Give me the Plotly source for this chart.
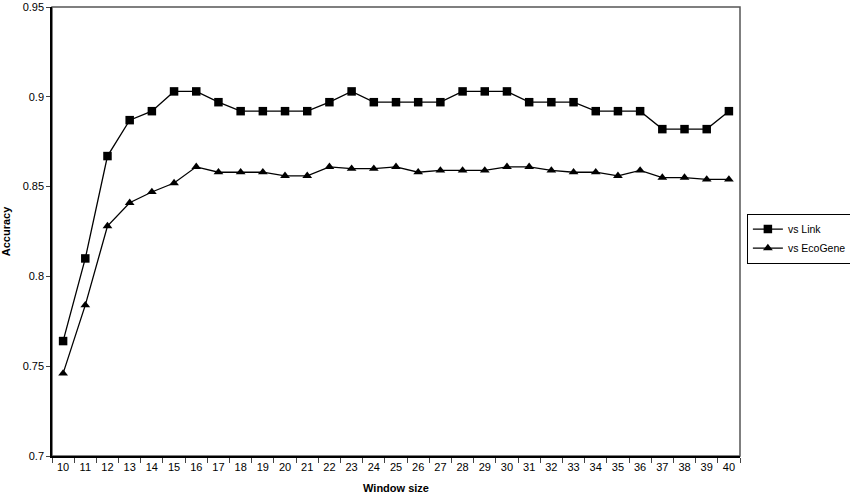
import plotly.graph_objects as go

window_sizes = list(range(10, 41))
vs_link = [0.764, 0.810, 0.867, 0.887, 0.892, 0.903, 0.903, 0.897, 0.892, 0.892,
           0.892, 0.892, 0.897, 0.903, 0.897, 0.897, 0.897, 0.897, 0.903, 0.903,
           0.903, 0.897, 0.897, 0.897, 0.892, 0.892, 0.892, 0.882, 0.882, 0.882,
           0.892]
vs_ecogene = [0.746, 0.784, 0.828, 0.841, 0.847, 0.852, 0.861, 0.858, 0.858, 0.858,
              0.856, 0.856, 0.861, 0.860, 0.860, 0.861, 0.858, 0.859, 0.859, 0.859,
              0.861, 0.861, 0.859, 0.858, 0.858, 0.856, 0.859, 0.855, 0.855, 0.854,
              0.854]
y_ticks = [0.7, 0.75, 0.8, 0.85, 0.9, 0.95]

fnt = "Liberation Sans, Arial, sans-serif"
cats = [str(w) for w in window_sizes]

fig = go.Figure()
fig.add_trace(go.Scatter(x=cats, y=vs_link, name="vs Link",
                         mode="lines+markers",
                         line=dict(color="black", width=1.3),
                         marker=dict(symbol="square", size=8.5, color="black")))
fig.add_trace(go.Scatter(x=cats, y=vs_ecogene, name="vs EcoGene",
                         mode="lines+markers",
                         line=dict(color="black", width=1.3),
                         marker=dict(symbol="triangle-up", size=8.5, color="black")))

# grey frame on top/right like the original
fig.add_shape(type="rect", xref="paper", yref="paper", x0=0, x1=1, y0=0, y1=1,
              line=dict(color="#555555", width=1.5), layer="below")

fig.update_layout(
    width=850, height=501,
    margin=dict(l=52, r=110, t=7, b=45, autoexpand=False),
    paper_bgcolor="white", plot_bgcolor="white",
    font=dict(family=fnt, size=11, color="black"),
    showlegend=True,
    legend=dict(x=1.01, y=0.54, xanchor="left", yanchor="top",
                bordercolor="black", borderwidth=1,
                font=dict(size=10.5), tracegroupgap=0,
                itemwidth=30),
)
fig.update_xaxes(type="category", range=[-0.5, len(cats) - 0.5],
                 tickson="boundaries", ticks="outside", ticklen=5,
                 tickangle=0,
                 showline=True, linecolor="black", linewidth=1.5, showgrid=False,
                 tickfont=dict(size=11),
                 title=dict(text="<b>Window size</b>", font=dict(size=11), standoff=12))
fig.update_yaxes(range=[0.7, 0.95], tickvals=y_ticks,
                 ticktext=["0.7", "0.75", "0.8", "0.85", "0.9", "0.95"],
                 ticks="outside", ticklen=4,
                 showline=True, linecolor="black", linewidth=1.5, showgrid=False,
                 zeroline=False, tickfont=dict(size=11),
                 title=dict(text="<b>Accuracy</b>", font=dict(size=11), standoff=12))

# drop the default 8px body margin so the figure fills the window
fig.write_html("out.html", config={"displayModeBar": False},
               post_script="document.body.style.margin='0px';")
